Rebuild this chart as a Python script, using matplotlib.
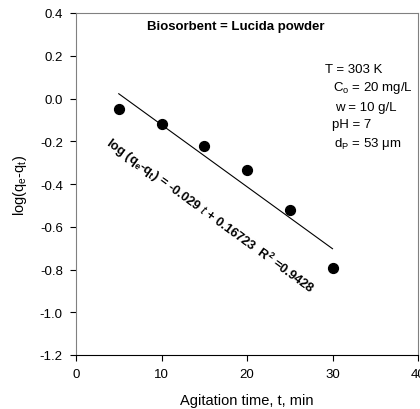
import matplotlib
matplotlib.use("Agg")
import matplotlib.pyplot as plt
import numpy as np

plt.rcParams['font.family'] = ['Liberation Sans', 'DejaVu Sans']
plt.rcParams['mathtext.fontset'] = 'custom'
plt.rcParams['mathtext.rm'] = 'Liberation Sans'
plt.rcParams['mathtext.it'] = 'Liberation Sans:italic'
plt.rcParams['mathtext.bf'] = 'Liberation Sans:bold'

# data
t = [5, 10, 15, 20, 25, 30]
logq = [-0.047, -0.118, -0.22, -0.335, -0.52, -0.794]
slope = -0.029
intercept = 0.16723
xticks = [0, 10, 20, 30, 40]
yticks = [-1.2, -1.0, -0.8, -0.6, -0.4, -0.2, 0.0, 0.2, 0.4]

fig = plt.figure(figsize=(4.2, 4.1), dpi=100)
ax = fig.add_axes([76/420, 54/410, 342/420, 342/410])

ax.scatter(t, logq, s=50, color='black', zorder=3)
tf = np.array([t[0], t[-1]])
ax.plot(tf, slope * tf + intercept, color='black', lw=0.8)

ax.set_xlim(0, 40)
ax.set_ylim(-1.2, 0.4)
ax.set_xticks(xticks)
ax.set_yticks(yticks)
ax.set_yticklabels(['%.1f' % v for v in yticks])
ax.tick_params(direction='out', length=4.5, width=0.8, labelsize=9.5, pad=5)
for s in ['left', 'top', 'right']:
    ax.spines[s].set_color('#808080')
ax.spines['bottom'].set_color('black')

ax.set_xlabel('Agitation time, t, min', fontsize=10.5, labelpad=9)
ax.set_ylabel(r'log(q$_\mathregular{e}$-q$_\mathregular{t}$)', fontsize=10.5, labelpad=8)

ax.text(0.468, 0.962, 'Biosorbent = Lucida powder', transform=ax.transAxes,
        ha='center', va='center', fontsize=9.5, fontweight='bold')

fs = 9.5
ax.text(0.728, 0.836, 'T = 303 K', transform=ax.transAxes, ha='left', va='center', fontsize=fs)
ax.text(0.751, 0.784, r'C$_\mathregular{o}$ = 20 mg/L', transform=ax.transAxes, ha='left', va='center', fontsize=fs)
ax.text(0.757, 0.725, 'w = 10 g/L', transform=ax.transAxes, ha='left', va='center', fontsize=fs)
ax.text(0.749, 0.675, 'pH = 7', transform=ax.transAxes, ha='left', va='center', fontsize=fs)
ax.text(0.754, 0.620, r'd$_\mathregular{P}$ = 53 μm', transform=ax.transAxes, ha='left', va='center', fontsize=fs)

ax.text(15.7, -0.545,
        r'log (q$_\mathbf{e}$-q$_\mathbf{t}$) = -0.029 $\mathbf{\it{t}}$ + 0.16723  R$^\mathbf{2}$ =0.9428',
        rotation=-36, ha='center', va='center', fontsize=9.3, fontweight='bold',
        rotation_mode='anchor')

fig.savefig('out.png', dpi=100)
